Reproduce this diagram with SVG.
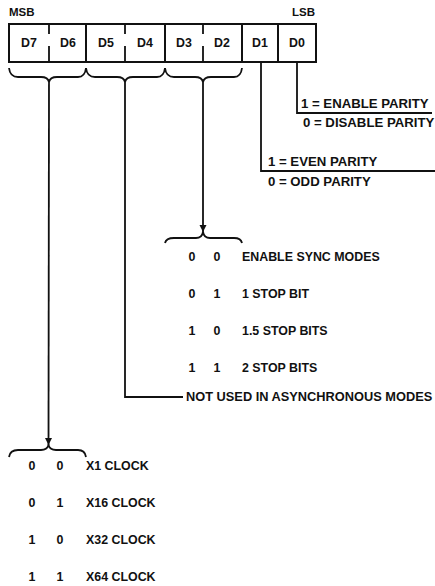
<svg xmlns="http://www.w3.org/2000/svg" width="435" height="586" viewBox="0 0 435 586">
<defs>
<style>
text{font-family:"Liberation Sans",Arial,sans-serif;font-weight:bold;font-size:12.4px;fill:#111}
.c{text-anchor:middle}
.p{font-size:13.2px}
.ln{fill:none;stroke:#111;stroke-width:1.8}
.bx{fill:none;stroke:#111;stroke-width:2}
</style>
<marker id="ah" viewBox="0 0 10 10" refX="10" refY="5" markerWidth="7" markerHeight="9" markerUnits="userSpaceOnUse" orient="auto">
<path d="M0,0 L10,5 L0,10 Z" fill="#111"/>
</marker>
</defs>
<rect width="435" height="586" fill="#fff"/>

<g id="register">
<text x="9" y="16" style="font-size:11.5px">MSB</text>
<text x="292" y="16" style="font-size:11.5px">LSB</text>
<rect class="bx" x="9" y="24" width="307" height="38"/>
<line class="bx" x1="86" y1="24" x2="86" y2="62"/>
<line class="bx" x1="165" y1="24" x2="165" y2="62"/>
<line class="bx" x1="242" y1="24" x2="242" y2="62"/>
<line class="bx" x1="278" y1="24" x2="278" y2="62"/>
<path class="ln" d="M49,24V34M49,46V62M125,24V34M125,46V62M203,24V34M203,46V62"/>
<text class="c" x="29" y="47">D7</text>
<text class="c" x="68" y="47">D6</text>
<text class="c" x="106" y="47">D5</text>
<text class="c" x="145" y="47">D4</text>
<text class="c" x="184" y="47">D3</text>
<text class="c" x="222" y="47">D2</text>
<text class="c" x="260" y="47">D1</text>
<text class="c" x="297" y="47">D0</text>
</g>

<g id="connectors">
<path class="ln" d="M9,68 Q10,77 18,77 L41,77 Q48,77 49,82 Q50,77 57,77 L78,77 Q85,77 86,68"/>
<path class="ln" d="M86,68 Q87,77 95,77 L117,77 Q124,77 125,82 Q126,77 133,77 L157,77 Q164,77 165,68"/>
<path class="ln" d="M165,68 Q166,77 174,77 L195,77 Q202,77 203,82 Q204,77 211,77 L234,77 Q241,77 242,68"/>
<line class="ln" x1="49" y1="82" x2="48.5" y2="445" marker-end="url(#ah)"/>
<line class="ln" x1="203" y1="82" x2="203" y2="232" marker-end="url(#ah)"/>
<path class="ln" d="M125,82 V397 H183"/>
<path class="ln" d="M297,62 V113 H432"/>
<path class="ln" d="M261,62 V171 H435"/>
<path class="ln" d="M165,243 Q166,238 174,238 L196,238 Q202,238 203,232 Q204,238 210,238 L234,238 Q241,238 242,243"/>
<path class="ln" d="M9,457 Q10,450 18,450 L41,450 Q47,450 48.5,445 Q50,450 56,450 L78,450 Q85,450 86,457"/>
</g>

<g id="parity-enable">
<text class="p" x="301" y="108">1 = ENABLE PARITY</text>
<text class="p" x="303" y="127">0 = DISABLE PARITY</text>
</g>
<g id="parity-even">
<text class="p" x="268" y="166">1 = EVEN PARITY</text>
<text class="p" x="268" y="186">0 = ODD PARITY</text>
</g>

<g id="stop-bits">
<text class="c" x="192" y="261">0</text><text class="c" x="217" y="261">0</text><text x="242" y="261">ENABLE SYNC MODES</text>
<text class="c" x="192" y="298">0</text><text class="c" x="217" y="298">1</text><text x="242" y="298">1 STOP BIT</text>
<text class="c" x="192" y="335">1</text><text class="c" x="217" y="335">0</text><text x="242" y="335">1.5 STOP BITS</text>
<text class="c" x="192" y="372">1</text><text class="c" x="217" y="372">1</text><text x="242" y="372">2 STOP BITS</text>
</g>

<g id="not-used">
<text x="186" y="401" style="font-size:12.8px">NOT USED IN ASYNCHRONOUS MODES</text>
</g>

<g id="clock">
<text class="c" x="32" y="470">0</text><text class="c" x="60" y="470">0</text><text x="86" y="470">X1 CLOCK</text>
<text class="c" x="32" y="507">0</text><text class="c" x="60" y="507">1</text><text x="86" y="507">X16 CLOCK</text>
<text class="c" x="32" y="544">1</text><text class="c" x="60" y="544">0</text><text x="86" y="544">X32 CLOCK</text>
<text class="c" x="32" y="581">1</text><text class="c" x="60" y="581">1</text><text x="86" y="581">X64 CLOCK</text>
</g>
</svg>
